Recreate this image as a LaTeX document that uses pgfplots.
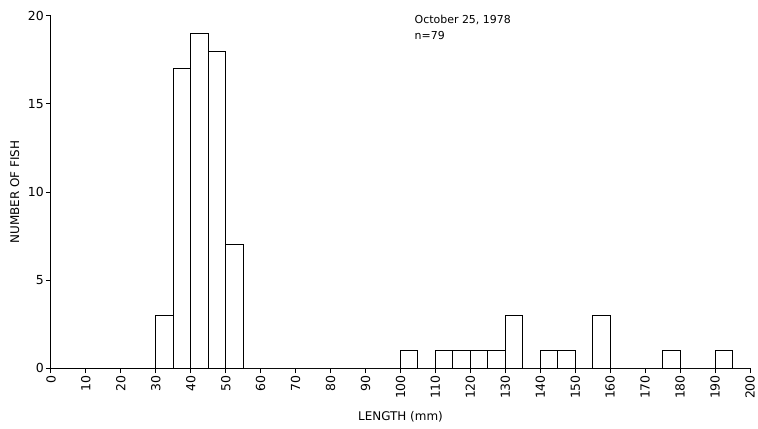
\documentclass[border=0pt]{standalone}
\usepackage{pgfplots}
\pgfplotsset{compat=1.18}
\usepackage{fontspec}
\setmainfont{DejaVu Sans}

\begin{document}
\begin{tikzpicture}
\begin{axis}[
    scale only axis,
    width=699bp, height=352bp,
    xmin=0, xmax=200,
    ymin=0, ymax=20,
    axis x line*=bottom,
    axis y line*=left,
    axis line style={line width=1bp},
    tick style={line width=1bp, black},
    tick align=outside,
    major tick length=5bp,
    xtick={0,10,...,200},
    ytick={0,5,10,15,20},
    minor tick num=0,
    /pgf/number format/assume math mode=true,
    xticklabel style={rotate=90, anchor=east, inner sep=2bp, font=\fontsize{12.5}{14}\selectfont},
    yticklabel style={inner sep=2bp, font=\fontsize{12.5}{14}\selectfont},
    xlabel={LENGTH (mm)},
    ylabel={NUMBER OF FISH},
    label style={font=\fontsize{12}{14}\selectfont},
    xlabel style={at={(axis description cs:0.5,-0.138)}, anchor=center},
    ylabel style={at={(axis description cs:-0.052,0.5)}, anchor=center},
    clip=false,
]
\addplot[ybar interval, draw=black, fill=white, line width=1bp] coordinates {
    (30,3) (35,17) (40,19) (45,18) (50,7) (55,0)
    (60,0) (65,0) (70,0) (75,0) (80,0) (85,0) (90,0) (95,0)
    (100,1) (105,0) (110,1) (115,1) (120,1) (125,1) (130,3) (135,0)
    (140,1) (145,1) (150,0) (155,3) (160,0) (165,0) (170,0) (175,1)
    (180,0) (185,0) (190,1) (195,0) (200,0)
};
\node[anchor=north west, align=left, font=\fontsize{11}{16}\selectfont, inner sep=0pt]
    at (axis cs:104,20.05) {October 25, 1978\\n=79};
\path (rel axis cs:0,0) ++(-51bp,-61bp) coordinate (bbll);
\path (rel axis cs:1,1) ++(8bp,16bp) coordinate (bbur);
\path (bbll) rectangle (bbur);
\end{axis}
\end{tikzpicture}
\end{document}
